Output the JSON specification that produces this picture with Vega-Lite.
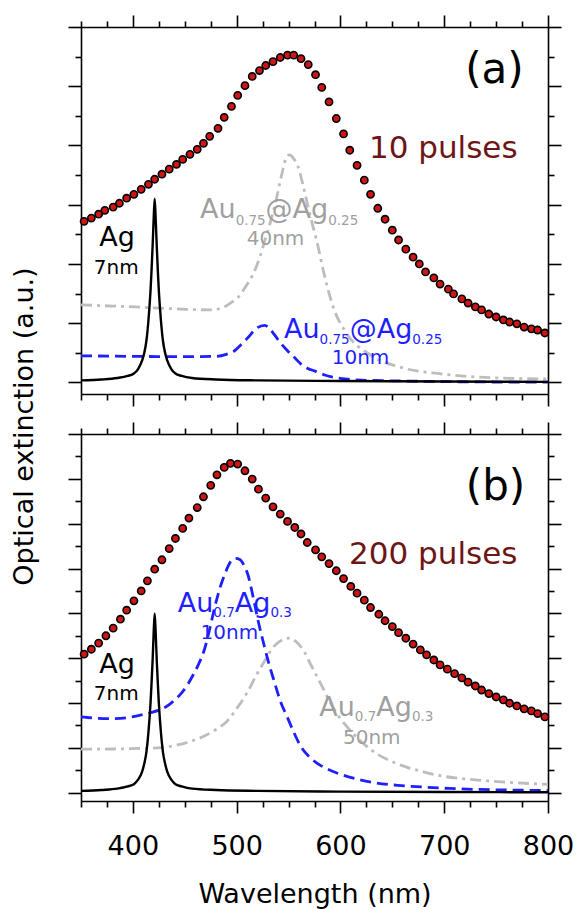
{
  "$schema": "https://vega.github.io/schema/vega-lite/v6.json",
  "padding": {"left": 9, "top": 14, "right": 2, "bottom": 2},
  "bounds": "flush",
  "spacing": 40,
  "config": {
    "font": "DejaVu Sans",
    "view": {"stroke": null},
    "axis": {"domainColor": "#000000", "tickColor": "#000000", "domainWidth": 1.6, "tickWidth": 1.6, "grid": false, "labelFont": "DejaVu Sans", "titleFont": "DejaVu Sans"},
    "text": {"font": "DejaVu Sans"}
  },
  "datasets": {
    "pulses10": [
      {"wl":353,"ext":5.44},{"wl":360,"ext":5.55},{"wl":367,"ext":5.68},{"wl":373,"ext":5.81},{"wl":381,"ext":5.92},{"wl":387,"ext":6.05},{"wl":394,"ext":6.22},{"wl":401,"ext":6.35},{"wl":408,"ext":6.52},{"wl":415,"ext":6.69},{"wl":421,"ext":6.86},{"wl":428,"ext":7.03},{"wl":435,"ext":7.20},{"wl":442,"ext":7.36},{"wl":448,"ext":7.53},{"wl":455,"ext":7.70},{"wl":462,"ext":7.87},{"wl":468,"ext":8.07},{"wl":474,"ext":8.31},{"wl":482,"ext":8.58},{"wl":488,"ext":8.95},{"wl":495,"ext":9.32},{"wl":501,"ext":9.69},{"wl":508,"ext":10.02},{"wl":515,"ext":10.33},{"wl":522,"ext":10.53},{"wl":528,"ext":10.70},{"wl":535,"ext":10.83},{"wl":542,"ext":10.97},{"wl":549,"ext":11.05},{"wl":555,"ext":11.05},{"wl":562,"ext":10.93},{"wl":569,"ext":10.73},{"wl":576,"ext":10.39},{"wl":582,"ext":9.96},{"wl":589,"ext":9.47},{"wl":596,"ext":8.91},{"wl":603,"ext":8.39},{"wl":609,"ext":7.84},{"wl":616,"ext":7.33},{"wl":623,"ext":6.83},{"wl":629,"ext":6.35},{"wl":636,"ext":5.88},{"wl":643,"ext":5.51},{"wl":650,"ext":5.14},{"wl":656,"ext":4.81},{"wl":663,"ext":4.50},{"wl":670,"ext":4.23},{"wl":676,"ext":4.00},{"wl":682,"ext":3.73},{"wl":690,"ext":3.53},{"wl":696,"ext":3.32},{"wl":704,"ext":3.15},{"wl":709,"ext":2.99},{"wl":717,"ext":2.82},{"wl":723,"ext":2.68},{"wl":730,"ext":2.55},{"wl":736,"ext":2.45},{"wl":743,"ext":2.31},{"wl":750,"ext":2.21},{"wl":757,"ext":2.11},{"wl":763,"ext":2.04},{"wl":770,"ext":1.98},{"wl":777,"ext":1.87},{"wl":784,"ext":1.81},{"wl":790,"ext":1.77},{"wl":797,"ext":1.67}
    ],
    "pulses200": [
      {"wl":353,"ext":6.18},{"wl":360,"ext":6.40},{"wl":367,"ext":6.67},{"wl":374,"ext":7.00},{"wl":381,"ext":7.34},{"wl":388,"ext":7.74},{"wl":394,"ext":8.14},{"wl":401,"ext":8.56},{"wl":408,"ext":9.00},{"wl":414,"ext":9.45},{"wl":421,"ext":9.97},{"wl":428,"ext":10.39},{"wl":435,"ext":10.89},{"wl":441,"ext":11.34},{"wl":448,"ext":11.79},{"wl":454,"ext":12.25},{"wl":462,"ext":12.72},{"wl":468,"ext":13.20},{"wl":475,"ext":13.71},{"wl":481,"ext":14.18},{"wl":488,"ext":14.51},{"wl":494,"ext":14.69},{"wl":501,"ext":14.66},{"wl":508,"ext":14.36},{"wl":515,"ext":13.99},{"wl":521,"ext":13.54},{"wl":528,"ext":13.14},{"wl":535,"ext":12.75},{"wl":542,"ext":12.43},{"wl":549,"ext":12.10},{"wl":556,"ext":11.83},{"wl":562,"ext":11.54},{"wl":568,"ext":11.16},{"wl":576,"ext":10.83},{"wl":582,"ext":10.52},{"wl":589,"ext":10.22},{"wl":596,"ext":9.90},{"wl":603,"ext":9.55},{"wl":610,"ext":9.20},{"wl":616,"ext":8.90},{"wl":623,"ext":8.59},{"wl":629,"ext":8.26},{"wl":637,"ext":7.96},{"wl":643,"ext":7.67},{"wl":650,"ext":7.41},{"wl":656,"ext":7.14},{"wl":663,"ext":6.89},{"wl":670,"ext":6.63},{"wl":677,"ext":6.37},{"wl":683,"ext":6.15},{"wl":690,"ext":5.92},{"wl":696,"ext":5.70},{"wl":703,"ext":5.51},{"wl":710,"ext":5.31},{"wl":717,"ext":5.12},{"wl":723,"ext":4.93},{"wl":730,"ext":4.76},{"wl":736,"ext":4.58},{"wl":743,"ext":4.42},{"wl":750,"ext":4.27},{"wl":757,"ext":4.14},{"wl":763,"ext":3.99},{"wl":770,"ext":3.87},{"wl":777,"ext":3.74},{"wl":784,"ext":3.65},{"wl":790,"ext":3.53},{"wl":797,"ext":3.38}
    ],
    "curves_a": [
      {"curve":"Ag 7nm","wl":350,"ext":0.07},{"curve":"Ag 7nm","wl":370,"ext":0.10},{"curve":"Ag 7nm","wl":385,"ext":0.15},{"curve":"Ag 7nm","wl":395,"ext":0.22},{"curve":"Ag 7nm","wl":401,"ext":0.30},{"curve":"Ag 7nm","wl":405,"ext":0.45},{"curve":"Ag 7nm","wl":409,"ext":0.75},{"curve":"Ag 7nm","wl":411,"ext":1.0},{"curve":"Ag 7nm","wl":413,"ext":1.4},{"curve":"Ag 7nm","wl":415,"ext":2.1},{"curve":"Ag 7nm","wl":417,"ext":3.1},{"curve":"Ag 7nm","wl":418,"ext":3.8},{"curve":"Ag 7nm","wl":419,"ext":4.6},{"curve":"Ag 7nm","wl":420,"ext":5.5},{"curve":"Ag 7nm","wl":421,"ext":6.2},{"curve":"Ag 7nm","wl":422,"ext":5.5},{"curve":"Ag 7nm","wl":423,"ext":4.6},{"curve":"Ag 7nm","wl":424,"ext":3.8},{"curve":"Ag 7nm","wl":425,"ext":3.1},{"curve":"Ag 7nm","wl":427,"ext":2.1},{"curve":"Ag 7nm","wl":429,"ext":1.4},{"curve":"Ag 7nm","wl":431,"ext":1.0},{"curve":"Ag 7nm","wl":433,"ext":0.75},{"curve":"Ag 7nm","wl":437,"ext":0.45},{"curve":"Ag 7nm","wl":441,"ext":0.30},{"curve":"Ag 7nm","wl":447,"ext":0.22},{"curve":"Ag 7nm","wl":457,"ext":0.15},{"curve":"Ag 7nm","wl":480,"ext":0.10},{"curve":"Ag 7nm","wl":520,"ext":0.07},{"curve":"Ag 7nm","wl":600,"ext":0.05},{"curve":"Ag 7nm","wl":700,"ext":0.03},{"curve":"Ag 7nm","wl":800,"ext":0.02},
      {"curve":"Au-Ag 10nm","wl":350,"ext":0.90},{"curve":"Au-Ag 10nm","wl":400,"ext":0.88},{"curve":"Au-Ag 10nm","wl":450,"ext":0.87},{"curve":"Au-Ag 10nm","wl":480,"ext":0.88},{"curve":"Au-Ag 10nm","wl":490,"ext":0.95},{"curve":"Au-Ag 10nm","wl":498,"ext":1.07},{"curve":"Au-Ag 10nm","wl":505,"ext":1.30},{"curve":"Au-Ag 10nm","wl":511,"ext":1.52},{"curve":"Au-Ag 10nm","wl":520,"ext":1.85},{"curve":"Au-Ag 10nm","wl":527,"ext":1.93},{"curve":"Au-Ag 10nm","wl":531,"ext":1.85},{"curve":"Au-Ag 10nm","wl":536,"ext":1.63},{"curve":"Au-Ag 10nm","wl":542,"ext":1.35},{"curve":"Au-Ag 10nm","wl":549,"ext":1.07},{"curve":"Au-Ag 10nm","wl":556,"ext":0.83},{"curve":"Au-Ag 10nm","wl":562,"ext":0.62},{"curve":"Au-Ag 10nm","wl":568,"ext":0.48},{"curve":"Au-Ag 10nm","wl":575,"ext":0.39},{"curve":"Au-Ag 10nm","wl":584,"ext":0.26},{"curve":"Au-Ag 10nm","wl":594,"ext":0.17},{"curve":"Au-Ag 10nm","wl":607,"ext":0.11},{"curve":"Au-Ag 10nm","wl":620,"ext":0.08},{"curve":"Au-Ag 10nm","wl":658,"ext":0.05},{"curve":"Au-Ag 10nm","wl":723,"ext":0.02},{"curve":"Au-Ag 10nm","wl":800,"ext":0.01},
      {"curve":"Au-Ag large","wl":350,"ext":2.62},{"curve":"Au-Ag large","wl":380,"ext":2.58},{"curve":"Au-Ag large","wl":420,"ext":2.52},{"curve":"Au-Ag large","wl":450,"ext":2.47},{"curve":"Au-Ag large","wl":475,"ext":2.45},{"curve":"Au-Ag large","wl":485,"ext":2.50},{"curve":"Au-Ag large","wl":495,"ext":2.70},{"curve":"Au-Ag large","wl":502,"ext":2.90},{"curve":"Au-Ag large","wl":508,"ext":3.20},{"curve":"Au-Ag large","wl":515,"ext":3.60},{"curve":"Au-Ag large","wl":522,"ext":4.20},{"curve":"Au-Ag large","wl":527,"ext":4.77},{"curve":"Au-Ag large","wl":532,"ext":5.35},{"curve":"Au-Ag large","wl":537,"ext":6.00},{"curve":"Au-Ag large","wl":542,"ext":6.80},{"curve":"Au-Ag large","wl":545,"ext":7.25},{"curve":"Au-Ag large","wl":548,"ext":7.62},{"curve":"Au-Ag large","wl":551,"ext":7.68},{"curve":"Au-Ag large","wl":555,"ext":7.55},{"curve":"Au-Ag large","wl":559,"ext":7.30},{"curve":"Au-Ag large","wl":565,"ext":6.50},{"curve":"Au-Ag large","wl":569,"ext":5.90},{"curve":"Au-Ag large","wl":574,"ext":5.20},{"curve":"Au-Ag large","wl":577,"ext":4.80},{"curve":"Au-Ag large","wl":584,"ext":3.70},{"curve":"Au-Ag large","wl":593,"ext":2.55},{"curve":"Au-Ag large","wl":606,"ext":1.65},{"curve":"Au-Ag large","wl":627,"ext":0.97},{"curve":"Au-Ag large","wl":659,"ext":0.50},{"curve":"Au-Ag large","wl":697,"ext":0.29},{"curve":"Au-Ag large","wl":745,"ext":0.16},{"curve":"Au-Ag large","wl":800,"ext":0.12}
    ],
    "curves_b": [
      {"curve":"Ag 7nm","wl":350,"ext":0.08},{"curve":"Ag 7nm","wl":370,"ext":0.12},{"curve":"Ag 7nm","wl":385,"ext":0.18},{"curve":"Ag 7nm","wl":395,"ext":0.28},{"curve":"Ag 7nm","wl":401,"ext":0.38},{"curve":"Ag 7nm","wl":405,"ext":0.58},{"curve":"Ag 7nm","wl":409,"ext":0.95},{"curve":"Ag 7nm","wl":411,"ext":1.3},{"curve":"Ag 7nm","wl":413,"ext":1.8},{"curve":"Ag 7nm","wl":415,"ext":2.7},{"curve":"Ag 7nm","wl":417,"ext":4.0},{"curve":"Ag 7nm","wl":418,"ext":4.9},{"curve":"Ag 7nm","wl":419,"ext":5.9},{"curve":"Ag 7nm","wl":420,"ext":7.1},{"curve":"Ag 7nm","wl":421,"ext":8.0},{"curve":"Ag 7nm","wl":422,"ext":7.1},{"curve":"Ag 7nm","wl":423,"ext":5.9},{"curve":"Ag 7nm","wl":424,"ext":4.9},{"curve":"Ag 7nm","wl":425,"ext":4.0},{"curve":"Ag 7nm","wl":427,"ext":2.7},{"curve":"Ag 7nm","wl":429,"ext":1.8},{"curve":"Ag 7nm","wl":431,"ext":1.3},{"curve":"Ag 7nm","wl":433,"ext":0.95},{"curve":"Ag 7nm","wl":437,"ext":0.58},{"curve":"Ag 7nm","wl":441,"ext":0.38},{"curve":"Ag 7nm","wl":447,"ext":0.28},{"curve":"Ag 7nm","wl":457,"ext":0.18},{"curve":"Ag 7nm","wl":480,"ext":0.12},{"curve":"Ag 7nm","wl":520,"ext":0.08},{"curve":"Ag 7nm","wl":600,"ext":0.05},{"curve":"Ag 7nm","wl":700,"ext":0.03},{"curve":"Ag 7nm","wl":800,"ext":0.02},
      {"curve":"Au-Ag 10nm","wl":350,"ext":3.38},{"curve":"Au-Ag 10nm","wl":365,"ext":3.32},{"curve":"Au-Ag 10nm","wl":380,"ext":3.30},{"curve":"Au-Ag 10nm","wl":395,"ext":3.35},{"curve":"Au-Ag 10nm","wl":408,"ext":3.47},{"curve":"Au-Ag 10nm","wl":418,"ext":3.58},{"curve":"Au-Ag 10nm","wl":427,"ext":3.72},{"curve":"Au-Ag 10nm","wl":435,"ext":3.93},{"curve":"Au-Ag 10nm","wl":441,"ext":4.17},{"curve":"Au-Ag 10nm","wl":447,"ext":4.45},{"curve":"Au-Ag 10nm","wl":453,"ext":4.84},{"curve":"Au-Ag 10nm","wl":458,"ext":5.25},{"curve":"Au-Ag 10nm","wl":463,"ext":5.70},{"curve":"Au-Ag 10nm","wl":469,"ext":6.40},{"curve":"Au-Ag 10nm","wl":474,"ext":7.30},{"curve":"Au-Ag 10nm","wl":479,"ext":8.30},{"curve":"Au-Ag 10nm","wl":484,"ext":9.15},{"curve":"Au-Ag 10nm","wl":489,"ext":9.80},{"curve":"Au-Ag 10nm","wl":494,"ext":10.30},{"curve":"Au-Ag 10nm","wl":499,"ext":10.45},{"curve":"Au-Ag 10nm","wl":503,"ext":10.40},{"curve":"Au-Ag 10nm","wl":507,"ext":10.15},{"curve":"Au-Ag 10nm","wl":511,"ext":9.70},{"curve":"Au-Ag 10nm","wl":516,"ext":8.70},{"curve":"Au-Ag 10nm","wl":521,"ext":7.60},{"curve":"Au-Ag 10nm","wl":527,"ext":6.47},{"curve":"Au-Ag 10nm","wl":532,"ext":5.60},{"curve":"Au-Ag 10nm","wl":536,"ext":5.00},{"curve":"Au-Ag 10nm","wl":542,"ext":4.10},{"curve":"Au-Ag 10nm","wl":549,"ext":3.35},{"curve":"Au-Ag 10nm","wl":555,"ext":2.70},{"curve":"Au-Ag 10nm","wl":562,"ext":2.05},{"curve":"Au-Ag 10nm","wl":570,"ext":1.60},{"curve":"Au-Ag 10nm","wl":578,"ext":1.30},{"curve":"Au-Ag 10nm","wl":590,"ext":1.00},{"curve":"Au-Ag 10nm","wl":600,"ext":0.82},{"curve":"Au-Ag 10nm","wl":615,"ext":0.62},{"curve":"Au-Ag 10nm","wl":632,"ext":0.45},{"curve":"Au-Ag 10nm","wl":655,"ext":0.33},{"curve":"Au-Ag 10nm","wl":680,"ext":0.25},{"curve":"Au-Ag 10nm","wl":705,"ext":0.19},{"curve":"Au-Ag 10nm","wl":729,"ext":0.15},{"curve":"Au-Ag 10nm","wl":760,"ext":0.12},{"curve":"Au-Ag 10nm","wl":800,"ext":0.10},
      {"curve":"Au-Ag large","wl":350,"ext":1.94},{"curve":"Au-Ag large","wl":380,"ext":1.95},{"curve":"Au-Ag large","wl":410,"ext":1.98},{"curve":"Au-Ag large","wl":427,"ext":2.01},{"curve":"Au-Ag large","wl":443,"ext":2.13},{"curve":"Au-Ag large","wl":456,"ext":2.30},{"curve":"Au-Ag large","wl":469,"ext":2.53},{"curve":"Au-Ag large","wl":480,"ext":2.82},{"curve":"Au-Ag large","wl":491,"ext":3.20},{"curve":"Au-Ag large","wl":500,"ext":3.75},{"curve":"Au-Ag large","wl":511,"ext":4.54},{"curve":"Au-Ag large","wl":519,"ext":5.25},{"curve":"Au-Ag large","wl":527,"ext":5.88},{"curve":"Au-Ag large","wl":533,"ext":6.35},{"curve":"Au-Ag large","wl":540,"ext":6.70},{"curve":"Au-Ag large","wl":546,"ext":6.86},{"curve":"Au-Ag large","wl":551,"ext":6.90},{"curve":"Au-Ag large","wl":557,"ext":6.75},{"curve":"Au-Ag large","wl":565,"ext":6.30},{"curve":"Au-Ag large","wl":571,"ext":5.75},{"curve":"Au-Ag large","wl":578,"ext":5.13},{"curve":"Au-Ag large","wl":585,"ext":4.50},{"curve":"Au-Ag large","wl":591,"ext":3.95},{"curve":"Au-Ag large","wl":600,"ext":3.30},{"curve":"Au-Ag large","wl":610,"ext":2.75},{"curve":"Au-Ag large","wl":622,"ext":2.20},{"curve":"Au-Ag large","wl":636,"ext":1.71},{"curve":"Au-Ag large","wl":650,"ext":1.38},{"curve":"Au-Ag large","wl":665,"ext":1.12},{"curve":"Au-Ag large","wl":681,"ext":0.92},{"curve":"Au-Ag large","wl":697,"ext":0.75},{"curve":"Au-Ag large","wl":720,"ext":0.62},{"curve":"Au-Ag large","wl":745,"ext":0.52},{"curve":"Au-Ag large","wl":770,"ext":0.44},{"curve":"Au-Ag large","wl":800,"ext":0.37}
    ],
    "notes_a_center": [
      {"text":"(a)","wl":748.4,"ext":10.1,"role":"panel","curve":"panel"},
      {"text":"Ag","wl":384.7,"ext":4.6,"role":"name","curve":"Ag 7nm"},
      {"text":"7nm","wl":384.0,"ext":3.65,"role":"size","curve":"Ag 7nm"},
      {"text":"40nm","wl":537.4,"ext":4.63,"role":"size","curve":"Au-Ag large"},
      {"text":"10nm","wl":619.3,"ext":0.62,"role":"size","curve":"Au-Ag 10nm"}
    ],
    "notes_a_left": [
      {"text":"10 pulses","wl":627.5,"ext":7.57,"role":"pulses","curve":"pulses"},
      {"text":"Au","wl":464.7,"ext":5.55,"role":"name","curve":"Au-Ag large"},
      {"text":"0.75","wl":499.0,"ext":5.33,"role":"sub","curve":"Au-Ag large"},
      {"text":"@Ag","wl":527.9,"ext":5.55,"role":"name","curve":"Au-Ag large"},
      {"text":"0.25","wl":588.2,"ext":5.33,"role":"sub","curve":"Au-Ag large"},
      {"text":"Au","wl":545.6,"ext":1.51,"role":"name","curve":"Au-Ag 10nm"},
      {"text":"0.75","wl":579.9,"ext":1.30,"role":"sub","curve":"Au-Ag 10nm"},
      {"text":"@Ag","wl":608.9,"ext":1.51,"role":"name","curve":"Au-Ag 10nm"},
      {"text":"0.25","wl":669.2,"ext":1.30,"role":"sub","curve":"Au-Ag 10nm"}
    ],
    "notes_b_center": [
      {"text":"(b)","wl":749.4,"ext":13.05,"role":"panel","curve":"panel"},
      {"text":"Ag","wl":384.7,"ext":5.36,"role":"name","curve":"Ag 7nm"},
      {"text":"7nm","wl":384.0,"ext":4.12,"role":"size","curve":"Ag 7nm"},
      {"text":"10nm","wl":492.9,"ext":6.85,"role":"size","curve":"Au-Ag 10nm"},
      {"text":"50nm","wl":630.2,"ext":2.16,"role":"size","curve":"Au-Ag large"}
    ],
    "notes_b_left": [
      {"text":"200 pulses","wl":608.3,"ext":10.2,"role":"pulses","curve":"pulses"},
      {"text":"Au","wl":443.2,"ext":8.04,"role":"name","curve":"Au-Ag 10nm"},
      {"text":"0.7","wl":477.5,"ext":7.84,"role":"sub","curve":"Au-Ag 10nm"},
      {"text":"Ag","wl":498.2,"ext":8.04,"role":"name","curve":"Au-Ag 10nm"},
      {"text":"0.3","wl":532.5,"ext":7.84,"role":"sub","curve":"Au-Ag 10nm"},
      {"text":"Au","wl":579.6,"ext":3.42,"role":"name","curve":"Au-Ag large"},
      {"text":"0.7","wl":613.9,"ext":3.20,"role":"sub","curve":"Au-Ag large"},
      {"text":"Ag","wl":634.6,"ext":3.42,"role":"name","curve":"Au-Ag large"},
      {"text":"0.3","wl":668.9,"ext":3.20,"role":"sub","curve":"Au-Ag large"}
    ]
  },
  "vconcat": [
    {
      "width": 467,
      "height": 367,
      "resolve": {"axis": {"x": "independent", "y": "independent"}},
      "layer": [
        {
          "data": {"name": "curves_a"},
          "transform": [{"filter": "datum.curve === 'Au-Ag large'"}],
          "mark": {"type": "line", "color": "#bdbdbd", "strokeWidth": 2.8, "strokeDash": [11, 5, 3, 5], "interpolate": "monotone"},
          "encoding": {
            "x": {"field": "wl", "type": "quantitative", "scale": {"domain": [350, 800], "nice": false, "zero": false},
              "axis": {"orient": "top", "values": [350,375,400,425,450,475,500,525,550,575,600,625,650,675,700,725,750,775,800], "labels": false, "title": null,
                "tickSize": {"condition": {"test": "datum.value % 100 === 0", "value": 12}, "value": 6}}},
            "y": {"field": "ext", "type": "quantitative", "scale": {"domain": [-0.39, 12], "nice": false, "zero": false},
              "axis": {"orient": "right", "values": [0,1,2,3,4,5,6,7,8,9,10,11,12], "labels": false, "title": null,
                "tickSize": {"condition": {"test": "datum.value % 2 === 0", "value": 13}, "value": 6}}}
          }
        },
        {
          "data": {"name": "curves_a"},
          "transform": [{"filter": "datum.curve === 'Au-Ag 10nm'"}],
          "mark": {"type": "line", "color": "#1f1fff", "strokeWidth": 2.8, "strokeDash": [11, 6], "interpolate": "monotone"},
          "encoding": {
            "x": {"field": "wl", "type": "quantitative", "axis": null},
            "y": {"field": "ext", "type": "quantitative", "axis": null}
          }
        },
        {
          "data": {"name": "curves_a"},
          "transform": [{"filter": "datum.curve === 'Ag 7nm'"}],
          "mark": {"type": "line", "color": "#000000", "strokeWidth": 2.4, "interpolate": "monotone"},
          "encoding": {
            "x": {"field": "wl", "type": "quantitative", "axis": null},
            "y": {"field": "ext", "type": "quantitative", "axis": null}
          }
        },
        {
          "data": {"name": "pulses10"},
          "mark": {"type": "point", "shape": "circle", "filled": true, "fill": "#d01515", "stroke": "#000000", "strokeWidth": 1.6, "size": 52, "opacity": 1},
          "encoding": {
            "x": {"field": "wl", "type": "quantitative",
              "axis": {"orient": "bottom", "values": [350,375,400,425,450,475,500,525,550,575,600,625,650,675,700,725,750,775,800], "labels": false, "title": null,
                "tickSize": {"condition": {"test": "datum.value % 100 === 0", "value": 12}, "value": 6}}},
            "y": {"field": "ext", "type": "quantitative",
              "axis": {"orient": "left", "values": [0,1,2,3,4,5,6,7,8,9,10,11,12], "labels": false, "title": null,
                "tickSize": {"condition": {"test": "datum.value % 2 === 0", "value": 13}, "value": 6}}}
          }
        },
        {
          "data": {"name": "notes_a_center"},
          "mark": {"type": "text", "align": "center", "baseline": "alphabetic"},
          "encoding": {
            "x": {"field": "wl", "type": "quantitative", "axis": null},
            "y": {"field": "ext", "type": "quantitative", "axis": null},
            "text": {"field": "text"},
            "size": {"field": "role", "type": "nominal", "scale": {"type": "ordinal", "domain": ["panel","pulses","name","sub","size"], "range": [42,31,27,13.5,20]}, "legend": null},
            "color": {"field": "curve", "type": "nominal", "scale": {"domain": ["panel","pulses","Ag 7nm","Au-Ag 10nm","Au-Ag large"], "range": ["#000000","#6e1616","#000000","#1f1fff","#9f9f9f"]}, "legend": null}
          }
        },
        {
          "data": {"name": "notes_a_left"},
          "mark": {"type": "text", "align": "left", "baseline": "alphabetic"},
          "encoding": {
            "x": {"field": "wl", "type": "quantitative", "axis": null},
            "y": {"field": "ext", "type": "quantitative", "axis": null},
            "text": {"field": "text"},
            "size": {"field": "role", "type": "nominal", "scale": {"type": "ordinal", "domain": ["panel","pulses","name","sub","size"], "range": [42,31,27,13.5,20]}, "legend": null},
            "color": {"field": "curve", "type": "nominal", "scale": {"domain": ["panel","pulses","Ag 7nm","Au-Ag 10nm","Au-Ag large"], "range": ["#000000","#6e1616","#000000","#1f1fff","#9f9f9f"]}, "legend": null}
          }
        }
      ]
    },
    {
      "width": 467,
      "height": 367,
      "resolve": {"axis": {"x": "independent", "y": "independent"}},
      "layer": [
        {
          "data": {"name": "curves_b"},
          "transform": [{"filter": "datum.curve === 'Au-Ag large'"}],
          "mark": {"type": "line", "color": "#bdbdbd", "strokeWidth": 2.8, "strokeDash": [11, 5, 3, 5], "interpolate": "monotone"},
          "encoding": {
            "x": {"field": "wl", "type": "quantitative", "scale": {"domain": [350, 800], "nice": false, "zero": false},
              "axis": {"orient": "top", "values": [350,375,400,425,450,475,500,525,550,575,600,625,650,675,700,725,750,775,800], "labels": false, "title": null,
                "tickSize": {"condition": {"test": "datum.value % 100 === 0", "value": 12}, "value": 6}}},
            "y": {"field": "ext", "type": "quantitative", "scale": {"domain": [-0.37, 16], "nice": false, "zero": false},
              "axis": {"orient": "right", "values": [0,1,2,3,4,5,6,7,8,9,10,11,12,13,14,15,16], "labels": false, "title": null,
                "tickSize": {"condition": {"test": "datum.value % 2 === 0", "value": 13}, "value": 6}}}
          }
        },
        {
          "data": {"name": "curves_b"},
          "transform": [{"filter": "datum.curve === 'Au-Ag 10nm'"}],
          "mark": {"type": "line", "color": "#1f1fff", "strokeWidth": 2.8, "strokeDash": [11, 6], "interpolate": "monotone"},
          "encoding": {
            "x": {"field": "wl", "type": "quantitative", "axis": null},
            "y": {"field": "ext", "type": "quantitative", "axis": null}
          }
        },
        {
          "data": {"name": "curves_b"},
          "transform": [{"filter": "datum.curve === 'Ag 7nm'"}],
          "mark": {"type": "line", "color": "#000000", "strokeWidth": 2.4, "interpolate": "monotone"},
          "encoding": {
            "x": {"field": "wl", "type": "quantitative", "axis": null},
            "y": {"field": "ext", "type": "quantitative", "axis": null}
          }
        },
        {
          "data": {"name": "pulses200"},
          "mark": {"type": "point", "shape": "circle", "filled": true, "fill": "#d01515", "stroke": "#000000", "strokeWidth": 1.6, "size": 52, "opacity": 1},
          "encoding": {
            "x": {"field": "wl", "type": "quantitative",
              "axis": {"orient": "bottom", "values": [350,375,400,425,450,475,500,525,550,575,600,625,650,675,700,725,750,775,800],
                "labelExpr": "datum.value % 100 === 0 ? datum.label : ''", "labelFontSize": 27, "labelColor": "#000000", "labelPadding": 20, "labelFlush": false, "labelOverlap": false,
                "title": "Wavelength (nm)", "titleFontSize": 27, "titleFontWeight": "normal", "titleColor": "#000000", "titlePadding": 22,
                "tickSize": {"condition": {"test": "datum.value % 100 === 0", "value": 12}, "value": 6}}},
            "y": {"field": "ext", "type": "quantitative",
              "axis": {"orient": "left", "values": [0,1,2,3,4,5,6,7,8,9,10,11,12,13,14,15,16], "labels": false,
                "title": "Optical extinction (a.u.)", "titleFontSize": 27, "titleFontWeight": "normal", "titleColor": "#000000",
                "titleX": -49, "titleY": -8, "titleAngle": -90, "titleAlign": "center", "titleBaseline": "alphabetic",
                "tickSize": {"condition": {"test": "datum.value % 2 === 0", "value": 13}, "value": 6}}}
          }
        },
        {
          "data": {"name": "notes_b_center"},
          "mark": {"type": "text", "align": "center", "baseline": "alphabetic"},
          "encoding": {
            "x": {"field": "wl", "type": "quantitative", "axis": null},
            "y": {"field": "ext", "type": "quantitative", "axis": null},
            "text": {"field": "text"},
            "size": {"field": "role", "type": "nominal", "scale": {"type": "ordinal", "domain": ["panel","pulses","name","sub","size"], "range": [42,31,27,13.5,20]}, "legend": null},
            "color": {"field": "curve", "type": "nominal", "scale": {"domain": ["panel","pulses","Ag 7nm","Au-Ag 10nm","Au-Ag large"], "range": ["#000000","#6e1616","#000000","#1f1fff","#9f9f9f"]}, "legend": null}
          }
        },
        {
          "data": {"name": "notes_b_left"},
          "mark": {"type": "text", "align": "left", "baseline": "alphabetic"},
          "encoding": {
            "x": {"field": "wl", "type": "quantitative", "axis": null},
            "y": {"field": "ext", "type": "quantitative", "axis": null},
            "text": {"field": "text"},
            "size": {"field": "role", "type": "nominal", "scale": {"type": "ordinal", "domain": ["panel","pulses","name","sub","size"], "range": [42,31,27,13.5,20]}, "legend": null},
            "color": {"field": "curve", "type": "nominal", "scale": {"domain": ["panel","pulses","Ag 7nm","Au-Ag 10nm","Au-Ag large"], "range": ["#000000","#6e1616","#000000","#1f1fff","#9f9f9f"]}, "legend": null}
          }
        }
      ]
    }
  ]
}
